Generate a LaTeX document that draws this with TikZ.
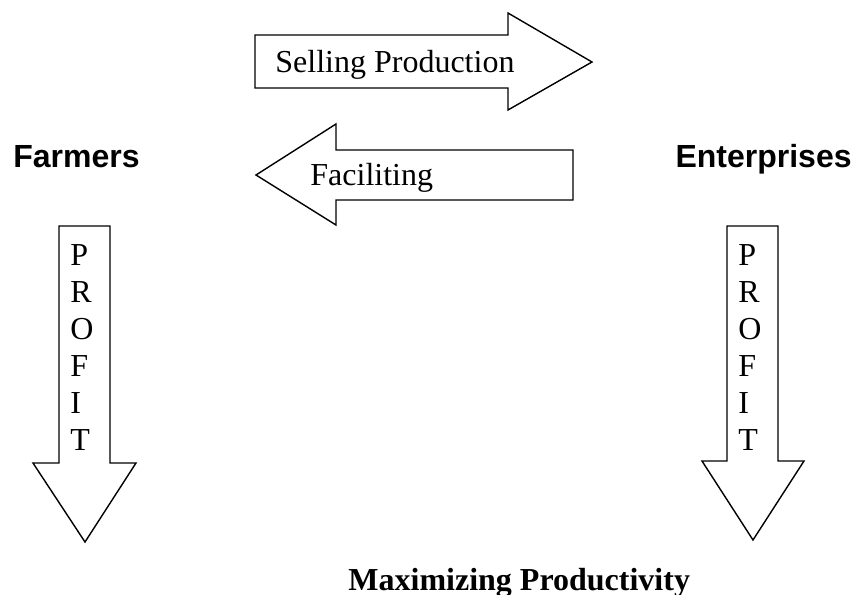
\documentclass[tikz,border=0pt]{standalone}
\usepackage{fontspec}
\setmainfont{Liberation Serif}
\setsansfont{Liberation Sans}
\usepackage{tikz}

\tikzset{
  blockarrow/.style={draw, line width=0.7pt, fill=white},
  txt/.style={inner sep=0pt, font=\fontsize{16}{18.5}\selectfont},
  side/.style={inner sep=0pt, font=\fontsize{16}{18.5}\selectfont\sffamily\bfseries},
  goal/.style={inner sep=0pt, font=\fontsize{16}{18.5}\selectfont\bfseries}
}

\begin{document}
\begin{tikzpicture}[x=0.5pt, y=-0.5pt]
				\useasboundingbox (0, 0) rectangle (859, 595);
				% Block arrows between the two sides:
				\draw[blockarrow] (255, 35) -- (508, 35) -- (508, 13) -- (592, 62) -- (508, 110) -- (508, 88) -- (255, 88) -- cycle;
				\node[txt, anchor=base west] (selling) at (275, 72) {Selling Production};
				\draw[blockarrow] (573, 150) -- (336, 150) -- (336, 124) -- (256, 175) -- (336, 225) -- (336, 200) -- (573, 200) -- cycle;
				\node[txt, anchor=base west] (faciliting) at (310, 185) {Faciliting};
				% Sides:
				\node[side, anchor=base west] (farmers) at (13, 167) {Farmers};
				\node[side, anchor=base east] (enterprises) at (852, 167) {Enterprises};
				% Profit arrows:
				\draw[blockarrow] (59, 226) -- (110, 226) -- (110, 463) -- (136, 463) -- (85, 542) -- (33, 463) -- (59, 463) -- cycle;
				\draw[blockarrow] (727, 226) -- (778, 226) -- (778, 461) -- (804, 461) -- (753, 540) -- (702, 461) -- (727, 461) -- cycle;
				\foreach \ch [count=\i from 0] in {P,R,O,F,I,T}{
					\node[txt, anchor=base west] (lprofit\i) at (70, {265+37*\i}) {\ch};
					\node[txt, anchor=base west] (rprofit\i) at (738, {265+37*\i}) {\ch};
				}
				\node[goal, anchor=base west] (maximizing) at (348, 590) {Maximizing Productivity};
\end{tikzpicture}
\end{document}
